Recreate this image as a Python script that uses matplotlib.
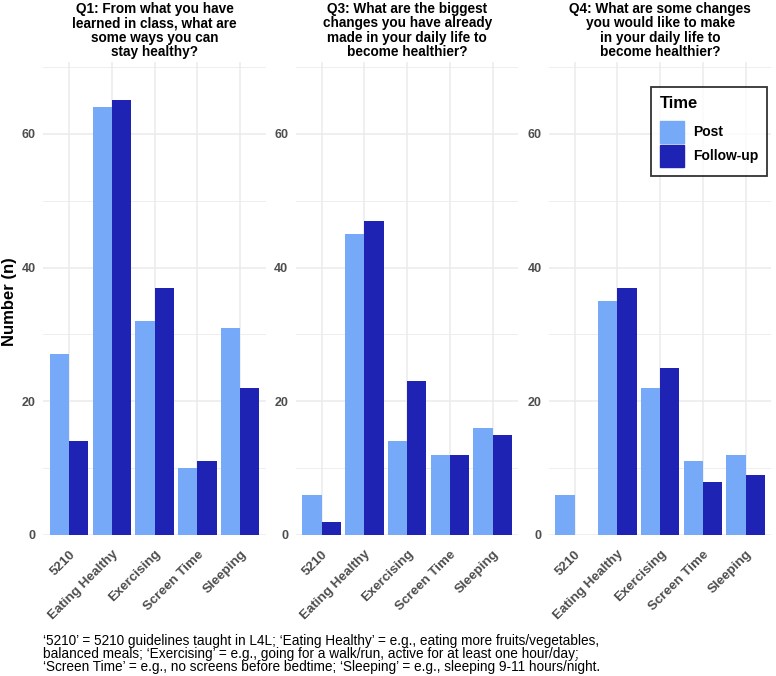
import matplotlib.pyplot as plt
import matplotlib.patches as mpatches
import numpy as np

# colours
POST = '#76A9F8'
FOLLOW = '#1F23B3'
GRID = '#EBEBEB'
TICK = '#4D4D4D'

categories = ['5210', 'Eating Healthy', 'Exercising', 'Screen Time', 'Sleeping']
titles = [
    'Q1: From what you have\nlearned in class, what are\nsome ways you can\nstay healthy?',
    'Q3: What are the biggest\nchanges you have already\nmade in your daily life to\nbecome healthier?',
    'Q4: What are some changes\nyou would like to make\nin your daily life to\nbecome healthier?',
]
post_q1 = [27, 64, 32, 10, 31]
follow_q1 = [14, 65, 37, 11, 22]
post_q3 = [6, 45, 14, 12, 16]
follow_q3 = [2, 47, 23, 12, 15]
post_q4 = [6, 35, 22, 11, 12]
follow_q4 = [0, 37, 25, 8, 9]
series = [(post_q1, follow_q1), (post_q3, follow_q3), (post_q4, follow_q4)]
y_ticks = [0, 20, 40, 60]

caption = ("\u20185210\u2019 = 5210 guidelines taught in L4L; \u2018Eating Healthy\u2019 = e.g., eating more fruits/vegetables,\n"
           "balanced meals; \u2018Exercising\u2019 = e.g., going for a walk/run, active for at least one hour/day;\n"
           "\u2018Screen Time\u2019 = e.g., no screens before bedtime; \u2018Sleeping\u2019 = e.g., sleeping 9-11 hours/night.")

plt.rcParams['font.family'] = ['Liberation Sans', 'DejaVu Sans']

fig = plt.figure(figsize=(7.76, 6.76), dpi=100, facecolor='white')

lefts = [0.0559, 0.3814, 0.7075]
width = 0.2865
bottom, height = 0.2086, 0.6997
x = np.arange(len(categories))
bw = 0.45

for k, (post, follow) in enumerate(series):
    ax = fig.add_axes([lefts[k], bottom, width, height])
    ax.bar(x - bw / 2, post, width=bw, color=POST, zorder=3)
    ax.bar(x + bw / 2, follow, width=bw, color=FOLLOW, zorder=3)
    ax.set_xlim(-0.6, len(categories) - 0.4)
    ax.set_ylim(0, 70.75)
    ax.set_yticks(y_ticks)
    ax.set_yticks([10, 30, 50, 70], minor=True)
    ax.set_yticklabels([str(t) for t in y_ticks], fontsize=9, fontweight='bold', color=TICK)
    ax.set_xticks(x)
    ax.set_xticklabels(categories, rotation=45, ha='right', va='top', rotation_mode='anchor',
                       fontsize=9.6, fontweight='bold', color=TICK)
    ax.tick_params(axis='y', which='both', length=0, pad=5.5)
    ax.tick_params(axis='x', which='both', length=0, pad=9.5)
    ax.grid(True, which='major', color=GRID, linewidth=1.1, zorder=0)
    ax.grid(True, which='minor', axis='y', color=GRID, linewidth=0.6, zorder=0)
    for s in ax.spines.values():
        s.set_visible(False)
    ax.set_title(titles[k], fontsize=9.8, fontweight='bold', color='black',
                 linespacing=1.05, pad=4)
    if k == 2:
        handles = [mpatches.Patch(color=POST, label='Post'),
                   mpatches.Patch(color=FOLLOW, label='Follow-up')]
        leg = ax.legend(handles=handles, title='Time', loc='upper right',
                        bbox_to_anchor=(0.982, 0.947), frameon=True, fancybox=False,
                        edgecolor='black', prop={'weight': 'bold', 'size': 10},
                        handlelength=1.73, handleheight=2.1, borderpad=0.65,
                        labelspacing=0.12, handletextpad=0.65, borderaxespad=0)
        leg.get_title().set_fontweight('bold')
        leg.get_title().set_fontsize(12)
        leg._legend_box.align = 'left'
        leg._legend_box.sep = 7
        leg.get_frame().set_linewidth(1.3)

fig.text(10 / 776, 1 - 302 / 676, 'Number (n)', rotation=90, fontsize=12,
         fontweight='bold', ha='center', va='center')

fig.text(0.056, 0.0621, caption, fontsize=9.8, va='top', ha='left', linespacing=0.92)

fig.savefig('out.png', dpi=100, facecolor='white')
